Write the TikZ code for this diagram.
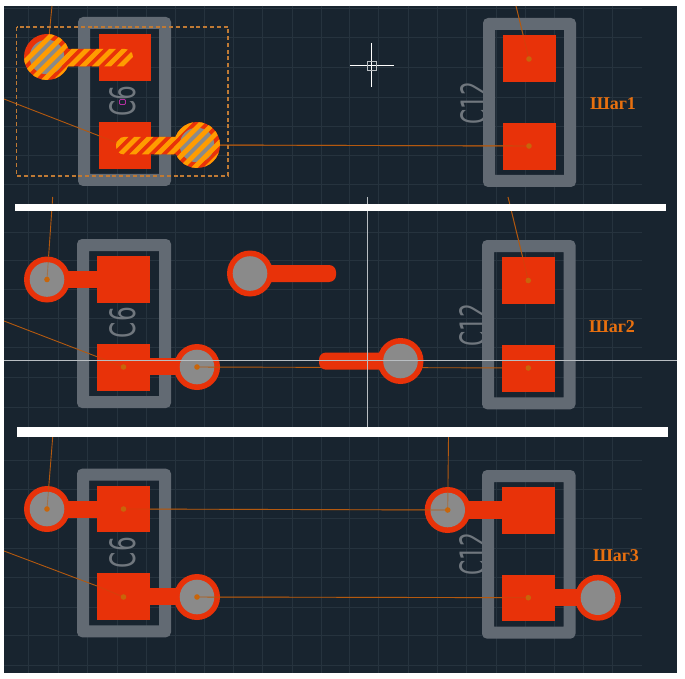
\documentclass[tikz,border=0pt]{standalone}
\usepackage{fontspec}
\usepackage{graphicx}
\usetikzlibrary{calc}
\setmainfont{Liberation Serif}
\newfontfamily\silkfont{DejaVu Sans}
\definecolor{boardbg}{HTML}{18242F}
\definecolor{gridc}{HTML}{26333E}
\definecolor{framec}{HTML}{626A73}
\definecolor{silkc}{HTML}{70777E}
\definecolor{padred}{HTML}{E83209}
\definecolor{hatchc}{HTML}{FF9C00}
\definecolor{holec}{HTML}{8A8A8A}
\definecolor{ratc}{HTML}{B4590F}
\definecolor{dotc}{HTML}{C8650A}
\definecolor{dashc}{HTML}{BF7A35}
\definecolor{markc}{HTML}{B030A0}
\definecolor{stepc}{HTML}{E8700F}
\definecolor{crossc}{HTML}{B9BEC2}
\tikzset{
  gridline/.style={draw=gridc,line width=0.55pt},
  padshape/.style={fill=padred},
  viashape/.style={fill=padred},
  holeshape/.style={fill=holec},
  ratline/.style={draw=ratc,line width=0.9pt},
  ratover/.style={draw=ratc,line width=0.9pt,opacity=0.35},
  ratstrong/.style={draw=ratc,line width=0.9pt,opacity=0.8},
  ratdot/.style={fill=dotc},
  sepbar/.style={fill=white},
  crossline/.style={draw=crossc,line width=0.7pt},
  steplabel/.style={text=stepc,inner sep=0pt,font=\fontsize{18}{18}\selectfont\bfseries},
  silk/.style={text=silkc,inner sep=0pt,rotate=90,font=\silkfont},
  hatchline/.style={draw=hatchc,line width=4.6pt},
}
\newcommand{\partframe}[4]{%
  \path[fill=framec,even odd rule,rounded corners=5pt] (#1,#2) rectangle (#3,#4)
    [sharp corners] (#1+12,#2+12) rectangle (#3-12,#4-12);}
\newcommand{\padbox}[4]{\fill[padshape] (#1,#2) rectangle (#3,#4);}
\newcommand{\viaring}[2]{\fill[viashape] (#1,#2) circle[radius=23pt];}
\newcommand{\viahole}[2]{\fill[holeshape] (#1,#2) circle[radius=17.3pt];}
\newcommand{\ratdotat}[1]{\fill[ratdot] (#1) circle[radius=2.8pt];}
\begin{document}
\begin{tikzpicture}[x=1pt,y=-1pt]
\useasboundingbox (0,0) rectangle (685,679);
\fill[white] (0,0) rectangle (685,679);
\fill[boardbg] (4,6) rectangle (677,672.5);
% grid
\begin{scope}
\clip (4,6) rectangle (677,672.5);
\foreach \gx in {28,58,87,117,146,175,204,233,262,292,321,349,378,408,437,466,496,525,554,583,612}
  \draw[gridline] (\gx,6) -- (\gx,672.5);
\foreach \gy in {8,37,67,97,126,155,184,232,260,289,318,347,377,407,460,489,518,548,577,607,635,665}
  \draw[gridline] (4,\gy) -- (642,\gy);
\end{scope}
% coordinates
\coordinate (a1) at (52,6);      \coordinate (v1a) at (47,57);
\coordinate (b1) at (4,99);      \coordinate (k1) at (97,135);   \coordinate (p1b) at (124,145.5);
\coordinate (v1b) at (197,145);  \coordinate (q1b) at (529,146);
\coordinate (c1) at (516,6);     \coordinate (q1a) at (529,59);

\coordinate (a2) at (52.7,197);  \coordinate (v2a) at (47,279.5);
\coordinate (b2) at (4,321);     \coordinate (k2) at (97,356.7); \coordinate (p2b) at (123.5,367);
\coordinate (v2b) at (197,367);  \coordinate (e2) at (220,367.1); \coordinate (q2b) at (528.3,368);
\coordinate (c2) at (508,197);   \coordinate (q2a) at (528.3,280.5);

\coordinate (a3) at (52.7,437);  \coordinate (v3a) at (47,509);
\coordinate (b3) at (4,551);     \coordinate (k3) at (97,586);   \coordinate (p3b) at (123.5,597);
\coordinate (p3a) at (123.5,509);\coordinate (v3c) at (447.7,510);
\coordinate (c3) at (448.5,437);
\coordinate (v3b) at (197,597);  \coordinate (e3) at (220,597.1); \coordinate (q3b) at (528.3,597.7);

% silkscreen text
\node[silk] (c6a) at (123,101.5) {\resizebox{31pt}{26pt}{C6}};
\node[silk] (c12a) at (474,103.5) {\resizebox{43pt}{26pt}{C12}};
\node[silk] (c6b) at (123,322.5) {\resizebox{31pt}{26pt}{C6}};
\node[silk] (c12b) at (473,325) {\resizebox{43pt}{26pt}{C12}};
\node[silk] (c6c) at (123,552.5) {\resizebox{31pt}{26pt}{C6}};
\node[silk] (c12c) at (473,554) {\resizebox{43pt}{26pt}{C12}};
% frames
\partframe{78}{17}{171}{186}
\partframe{483}{18}{576}{187}
\partframe{77}{239}{171}{408}
\partframe{482}{240}{575.5}{409.3}
\partframe{77}{468.7}{171}{637.3}
\partframe{482}{470}{575.5}{638.7}
% ratsnest under pads
\draw[ratline] (a1) -- (v1a);
\draw[ratline] (b1) -- (k1) -- (p1b);
\draw[ratline] (c1) -- (q1a);
\draw[ratline] (v1b) -- (q1b);
\draw[ratline] (b2) -- (k2) -- (p2b);
\draw[ratline] (c2) -- (q2a);
\draw[ratline] (v2b) -- (q2b);
\draw[ratline] (b3) -- (k3) -- (p3b);
\draw[ratline] (v3b) -- (q3b);
\draw[ratline] (p3a) -- (v3c);
% pads
\padbox{98.5}{34}{151}{81}
\padbox{98.5}{122}{151}{169}
\padbox{502.5}{35.5}{555.5}{82.5}
\padbox{502.5}{123}{555.5}{170}
\padbox{97.3}{256}{149.7}{303}
\padbox{97.3}{344}{149.7}{390.7}
\padbox{502}{257.3}{554.7}{303.7}
\padbox{502}{344.7}{554.7}{391.7}
\padbox{97.3}{486}{149.7}{532.3}
\padbox{97.3}{573.3}{149.7}{620}
\padbox{502}{487}{554.7}{533.7}
\padbox{502}{574.7}{554.7}{621.3}
% lines through pads
\draw[ratover] (k1) -- (p1b);
\draw[ratover] (c1) -- (q1a);
\draw[ratstrong] (v1b) -- (q1b);
\draw[ratover] (k2) -- (p2b);
\draw[ratover] (c2) -- (q2a);
\draw[ratover] (k3) -- (p3b);
\draw[ratover] (v3b) -- (q3b);
\draw[ratover] (p3a) -- (v3c);
% panel 1 hatched vias and tracks
\fill[padred,rounded corners=8pt] (60,49) rectangle (133,66.5);
\fill[padred,rounded corners=8pt] (116,137) rectangle (190,154.5);
\viaring{47}{57}
\viaring{197}{145}
\viahole{47}{57}
\viahole{197}{145}
\begin{scope}
\clip[rounded corners=8pt] (60,49) rectangle (133,66.5);
\foreach \hs in {0,12.5,...,350}
  \draw[hatchline] (\hs,66.5+20) -- (\hs+60,66.5-40);
\end{scope}
\begin{scope}
\clip (47,57) circle[radius=23pt];
\foreach \hs in {0,12.5,...,200}
  \draw[hatchline] (\hs,66.5+20) -- (\hs+60,66.5-40);
\end{scope}
\begin{scope}
\clip[rounded corners=8pt] (116,137) rectangle (190,154.5);
\foreach \hs in {50,62.5,...,300}
  \draw[hatchline] (\hs,154.5+20) -- (\hs+60,154.5-40);
\end{scope}
\begin{scope}
\clip (197,145) circle[radius=23pt];
\foreach \hs in {50,62.5,...,300}
  \draw[hatchline] (\hs,154.5+20) -- (\hs+60,154.5-40);
\end{scope}
% dashed selection box
\draw[draw=dashc,line width=1.2pt,dash pattern=on 4pt off 2.8pt] (16.5,27) rectangle (228,176);
% magenta origin mark
\draw[draw=markc,line width=0.9pt,rounded corners=1pt] (119.5,99.5) rectangle (125.5,104.5);
% panel 1 dots
\ratdotat{q1a}
\ratdotat{q1b}
% panel 2 copper
\fill[padred] (47,271) rectangle (100,288);
\fill[padred] (147,358) rectangle (197,375);
\viaring{47}{279.5}
\viaring{197}{367}
\viahole{47}{279.5}
\viahole{197}{367}
\draw[ratline] (a2) -- ($(a2)!0.72!(v2a)$);
\draw[ratline,opacity=0.5] ($(a2)!0.72!(v2a)$) -- (v2a);
\draw[ratline] (v2b) -- (e2);
\ratdotat{v2a}
\ratdotat{p2b}
\ratdotat{v2b}
\ratdotat{q2a}
\ratdotat{q2b}
% floating copper, panel 2
\fill[padred,rounded corners=7pt] (230,265) rectangle (336,282);
\viaring{250}{273.5}
\viahole{250}{273.5}
\fill[padred,rounded corners=7pt] (319,352.5) rectangle (420,369.7);
\viaring{400.5}{361}
\viahole{400.5}{361}
% panel 3 copper
\fill[padred] (47,500.7) rectangle (100,518);
\fill[padred] (147,588) rectangle (197,605);
\fill[padred] (447.7,501) rectangle (505,519);
\fill[padred] (552,589) rectangle (598,606);
\viaring{47}{509}
\viaring{197}{597}
\viaring{447.7}{510}
\viaring{598}{597.7}
\viahole{47}{509}
\viahole{197}{597}
\viahole{447.7}{510}
\viahole{598}{597.7}
\draw[ratline] (a3) -- ($(a3)!0.72!(v3a)$);
\draw[ratline,opacity=0.5] ($(a3)!0.72!(v3a)$) -- (v3a);
\draw[ratline] (c3) -- ($(c3)!0.72!(v3c)$);
\draw[ratline,opacity=0.6] ($(c3)!0.72!(v3c)$) -- (v3c);
\draw[ratline] ($(p3a)!0.93!(v3c)$) -- (v3c);
\draw[ratline] (v3b) -- (e3);
\ratdotat{v3a}
\ratdotat{p3a}
\ratdotat{p3b}
\ratdotat{v3b}
\ratdotat{v3c}
\ratdotat{q3b}
% crosshairs
\draw[crossline] (4,360.5) -- (677,360.5);
\draw[crossline] (367.4,197) -- (367.4,428);
\draw[draw=white,line width=0.9pt] (350,65) -- (394,65);
\draw[draw=white,line width=0.9pt] (371.5,43) -- (371.5,87);
\draw[draw=crossc,line width=0.8pt] (367,61) rectangle (376,70);
% separators
\fill[sepbar] (15,204) rectangle (666,211);
\fill[sepbar] (17,427.3) rectangle (667.5,437);
% step labels
\node[steplabel] (s1) at (613,104) {Шаг1};
\node[steplabel] (s2) at (612,326.5) {Шаг2};
\node[steplabel] (s3) at (616,556) {Шаг3};
\end{tikzpicture}
\end{document}
